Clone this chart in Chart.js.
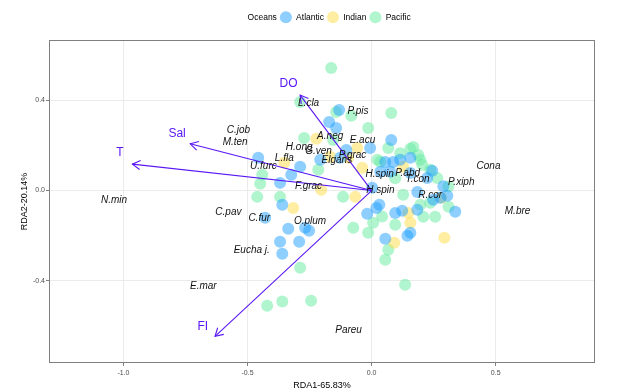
<!DOCTYPE html>
<html><head><meta charset="utf-8">
<script src="https://cdn.jsdelivr.net/npm/chart.js@4.4.1/dist/chart.umd.min.js"></script>
<style>html,body{margin:0;padding:0;background:#fff}#wrap{width:634px;height:392px}</style>
</head><body><div id="wrap"><canvas id="c" width="634" height="392"></canvas></div>
<script>
const oceans = ['Atlantic', 'Indian', 'Pacific'];
const atlanticX = [-0.131,-0.171,-0.143,0.079,-0.006,-0.102,-0.457,-0.288,-0.324,-0.369,-0.360,-0.207,-0.127,-0.429,-0.268,-0.252,-0.336,-0.369,-0.292,-0.360,-0.018,0.031,0.055,0.144,0.123,0.184,0.156,0.337,0.305,0.277,0.156,0.244,0.095,0.055,0.087,0.115,0.035,0.075,0.002,0.224,0.184,0.248,0.156,0.289,0.019];
const atlanticY = [0.357,0.304,0.277,0.224,0.189,0.180,0.145,0.105,0.070,0.034,-0.063,0.136,0.145,-0.121,-0.165,-0.178,-0.169,-0.227,-0.227,-0.280,-0.103,-0.063,-0.214,-0.200,-0.090,-0.085,-0.187,-0.094,-0.023,-0.032,0.145,0.088,-0.099,0.127,0.127,0.136,0.083,0.083,0.012,0.056,-0.006,-0.041,0.078,0.019,-0.077];
const indianX = [-0.223,-0.058,-0.094,-0.038,-0.352,-0.203,-0.316,-0.066,0.148,0.156,0.091,0.293,0.127,0.281,-0.167];
const indianY = [0.229,0.189,0.145,0.101,0.123,0.003,-0.077,-0.028,-0.099,-0.143,-0.231,-0.209,0.105,-0.032,0.150];
const pacificX = [-0.163,-0.288,-0.143,-0.082,-0.014,-0.272,0.079,0.067,0.156,0.023,0.196,0.236,0.264,-0.115,0.006,-0.074,-0.014,0.095,0.067,0.055,0.208,0.256,-0.441,-0.461,-0.369,-0.215,-0.449,-0.288,-0.421,-0.360,-0.244,0.135,0.168,0.204,0.196,0.236,0.035,0.115,0.188,0.095,0.127,0.310,-0.155,0.042,0.309];
const pacificY = [0.543,0.392,0.348,0.331,0.277,0.233,0.344,0.189,0.185,0.136,0.136,0.092,0.056,-0.028,-0.143,-0.165,-0.187,-0.152,-0.262,-0.307,-0.116,-0.116,0.070,-0.028,-0.028,0.092,0.030,-0.342,-0.510,-0.492,-0.488,-0.417,0.193,0.114,-0.063,-0.054,0.128,0.165,0.158,0.055,-0.019,-0.072,0.224,-0.115,0.018];

const speciesNames = ['L.cla','P.pis','C.job','M.ten','A.neg','E.acu','H.ong','G.ven','P.grac','Elgans','L.fla','U.furc','H.spin','P.abd','T.con','H.spin','F.grac','Cona','P.xiph','R.cor','M.bre','N.min','C.pav','C.fur','O.plum','Eucha j.','E.mar','Pareu'];
const speciesX = [-0.254,-0.055,-0.537,-0.550,-0.167,-0.037,-0.292,-0.214,-0.077,-0.140,-0.352,-0.436,0.032,0.145,0.185,0.035,-0.254,0.471,0.361,0.236,0.588,-1.038,-0.577,-0.453,-0.248,-0.483,-0.678,-0.093];
const speciesY = [0.387,0.353,0.269,0.213,0.242,0.221,0.192,0.173,0.155,0.136,0.143,0.109,0.074,0.077,0.050,0.003,0.018,0.109,0.037,-0.019,-0.093,-0.041,-0.096,-0.124,-0.134,-0.265,-0.422,-0.619];

const envNames = ['DO','Sal','T','FI'];
const envX = [-0.288,-0.731,-0.964,-0.631];
const envY = [0.423,0.207,0.117,-0.646];
const envLabelX = [-0.335,-0.784,-1.014,-0.680];
const envLabelY = [0.472,0.251,0.167,-0.602];

const xTicks = [-1.0,-0.5,0.0,0.5];
const yTicks = [-0.4,0.0,0.4];

const oceanColors = ['rgba(30,160,255,0.5)','rgba(255,221,70,0.5)','rgba(100,235,160,0.5)'];
const ARROW = '#5a17f5';
const FONT = '"Liberation Sans", Arial, sans-serif';

function pts(xs, ys){ return xs.map((x,i)=>({x:x, y:ys[i]})); }

const overlay = {
  id:'overlay',
  beforeLayout(chart){
    const lg = chart.legend;
    if (lg && !lg._patched){
      const f = lg.fit;
      lg.fit = function(){ f.call(this); this.height = 30; };
      lg._patched = true;
    }
  },
  afterLayout(chart){
    const lg = chart.legend;
    if (lg){ lg.left += 14; lg.right += 14; }
  },
  afterDatasetsDraw(chart){
    const ctx = chart.ctx, xs = chart.scales.x, ys = chart.scales.y;
    const ox = xs.getPixelForValue(0), oy = ys.getPixelForValue(0);
    ctx.save();
    ctx.strokeStyle = ARROW; ctx.lineWidth = 1.1;
    envNames.forEach((n,i)=>{
      const tx = xs.getPixelForValue(envX[i]), ty = ys.getPixelForValue(envY[i]);
      ctx.beginPath(); ctx.moveTo(ox,oy); ctx.lineTo(tx,ty); ctx.stroke();
      const a = Math.atan2(ty-oy, tx-ox), L = 9, h = Math.PI/6;
      ctx.beginPath();
      ctx.moveTo(tx - L*Math.cos(a-h), ty - L*Math.sin(a-h));
      ctx.lineTo(tx,ty);
      ctx.lineTo(tx - L*Math.cos(a+h), ty - L*Math.sin(a+h));
      ctx.stroke();
    });
    ctx.fillStyle = ARROW; ctx.textAlign='center'; ctx.textBaseline='middle';
    ctx.font = '12px ' + FONT;
    envNames.forEach((n,i)=>{
      ctx.fillText(n, xs.getPixelForValue(envLabelX[i]), ys.getPixelForValue(envLabelY[i]));
    });
    ctx.fillStyle = '#111';
    ctx.font = 'italic 10px ' + FONT;
    speciesNames.forEach((n,i)=>{
      ctx.fillText(n, xs.getPixelForValue(speciesX[i]), ys.getPixelForValue(speciesY[i]));
    });
    ctx.restore();
  },
  afterDraw(chart){
    const a = chart.chartArea, ctx = chart.ctx;
    ctx.save(); ctx.strokeStyle = '#7f7f7f'; ctx.lineWidth = 1;
    ctx.strokeRect(Math.round(a.left)+0.5, Math.round(a.top)+0.5, Math.round(a.right-a.left)-1, Math.round(a.bottom-a.top)-1);
    ctx.restore();
  }
};

new Chart(document.getElementById('c'), {
  type:'scatter',
  data:{ datasets:[
    {label:oceans[0], data:pts(atlanticX,atlanticY), backgroundColor:oceanColors[0]},
    {label:oceans[1], data:pts(indianX,indianY), backgroundColor:oceanColors[1]},
    {label:oceans[2], data:pts(pacificX,pacificY), backgroundColor:oceanColors[2]}
  ]},
  options:{
    responsive:false, animation:false,
    layout:{padding:{top:10,left:19,right:39,bottom:1}},
    elements:{point:{radius:6, borderWidth:0, hoverRadius:6}},
    plugins:{
      tooltip:{enabled:false},
      legend:{
        position:'top', align:'center',
        labels:{
          usePointStyle:true, pointStyle:'circle', pointStyleWidth:12, boxHeight:8.5,
          padding:3, color:'#000',
          font:{size:8.5, family:FONT},
          generateLabels(chart){
            const items = chart.data.datasets.map((d,i)=>({text:d.label, fillStyle:d.backgroundColor, strokeStyle:'rgba(0,0,0,0)', lineWidth:0, pointStyle:'circle', hidden:false, datasetIndex:i}));
            items.unshift({text:'Oceans', fillStyle:'rgba(0,0,0,0)', strokeStyle:'rgba(0,0,0,0)', lineWidth:0, pointStyle:'circle', hidden:false, datasetIndex:-1});
            return items;
          }
        }
      }
    },
    scales:{
      x:{
        type:'linear', min:-1.3, max:0.9,
        afterBuildTicks(s){ s.ticks = xTicks.map(v=>({value:v})); },
        afterFit(s){ s.height = 28; },
        ticks:{callback:v=>Number(v).toFixed(1), font:{size:7, family:FONT}, color:'#4d4d4d', padding:3, maxRotation:0, autoSkip:false},
        grid:{color:'#ebebeb', lineWidth:1, tickColor:'#7f7f7f', tickLength:3},
        border:{display:false},
        title:{display:true, text:'RDA1-65.83%', color:'#000', font:{size:9, family:FONT}, padding:{top:0,bottom:0}}
      },
      y:{
        type:'linear', min:-0.764, max:0.667,
        afterBuildTicks(s){ s.ticks = yTicks.map(v=>({value:v})); },
        afterFit(s){ s.width = 30; },
        ticks:{callback:v=>Number(v).toFixed(1), font:{size:7, family:FONT}, color:'#4d4d4d', padding:1, autoSkip:false},
        grid:{color:'#ebebeb', lineWidth:1, tickColor:'#7f7f7f', tickLength:3},
        border:{display:false},
        title:{display:true, text:'RDA2-20.14%', color:'#000', font:{size:9, family:FONT}, padding:{top:0,bottom:0}}
      }
    }
  },
  plugins:[overlay]
});
</script></body></html>
